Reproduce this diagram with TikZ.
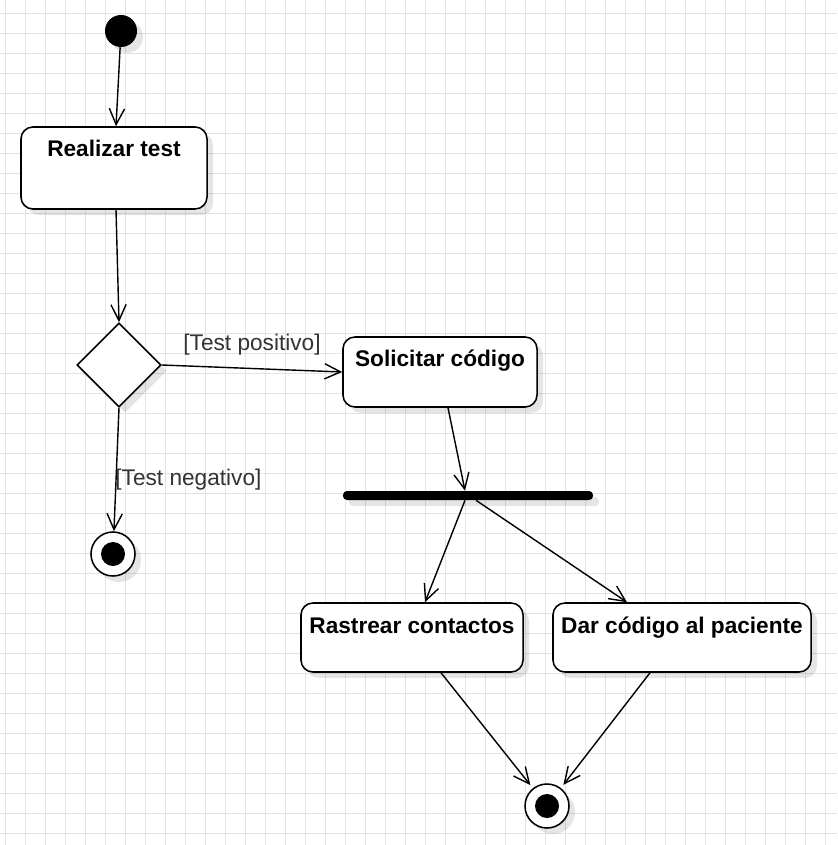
\documentclass[tikz,border=0pt]{standalone}
\usepackage{fontspec}
\setmainfont{Liberation Sans}
\usepackage{tikz}
\usetikzlibrary{shapes.geometric,arrows.meta,shadows}

\begin{document}
\begin{tikzpicture}[x=0.025cm,y=-0.025cm,font=\fontsize{16.1}{18}\selectfont]
\tikzset{gridline/.style=
            {draw=black!11,line width=0.5pt},
         shade box/.style=
            {drop shadow={shadow xshift=0.15cm,shadow yshift=-0.15cm,fill=black,opacity=0.1}},
         activity/.style=
            {draw,fill=white,rounded corners=0.3cm,line width=1.1pt,inner ysep=0pt,
             text height=0.75cm,font=\fontsize{16.1}{18}\selectfont\bfseries,shade box},
         decision/.style=
            {diamond,draw,fill=white,line width=1.1pt,minimum size=2.1cm,inner sep=0pt,shade box},
         initial/.style=
            {circle,fill=black,minimum size=0.8cm,inner sep=0pt,shade box},
         final/.style=
            {circle,draw,fill=white,line width=1.1pt,minimum size=1.1cm,inner sep=0pt,shade box,
             path picture={\fill[black] (path picture bounding box.center) circle (0.3cm);}},
         forkbar/.style=
            {fill=black,rounded corners=0.1cm,minimum width=6.25cm,minimum height=0.225cm,
             inner sep=0pt,shade box},
         flow/.style=
            {line width=1pt,-{Straight Barb[length=0.4cm,width=0.38cm]}},
         guard/.style=
            {text=black!80}}
\useasboundingbox (0,0) rectangle (837,845);
\fill[white] (0,0) rectangle (837,845);
\foreach \gx in {5,25,...,825} \draw[gridline] (\gx,0) -- (\gx,845);
\foreach \gy in {13,33,...,833} \draw[gridline] (0,\gy) -- (837,\gy);

\node[initial] (start) at (121,31) {};
\node[activity,minimum width=4.65cm,text depth=1.3cm] (realizar) at (114,168) {Realizar test};
\node[decision] (dec) at (119,365) {};
\node[activity,minimum width=4.85cm,text depth=1cm] (solicitar) at (440,372) {Solicitar código};
\node[final] (endA) at (113,554) {};
\node[forkbar] (bar) at (468,495.5) {};
\node[activity,minimum width=5.55cm,text depth=0.975cm] (rastrear) at (412,637.5) {Rastrear contactos};
\node[activity,minimum width=6.45cm,text depth=0.975cm] (dar) at (682,637.5) {Dar código al paciente};
\node[final] (endB) at (547,806) {};

\draw[flow] (start) -- ([xshift=0.05cm]realizar.north);
\draw[flow] ([xshift=0.05cm]realizar.south) -- (dec.north);
\draw[flow] (dec.east) -- node[guard,above=0.2cm] (lblpos) {[Test positivo]} (solicitar.west);
\draw[flow] (dec.south) -- node[guard,pos=0.58,anchor=west,xshift=-0.15cm] (lblneg) {[Test negativo]} (endA);
\draw[flow] ([xshift=0.2cm]solicitar.south) -- ([xshift=-0.075cm]bar.north);
\draw[flow] ([xshift=-0.075cm]bar.south) -- ([xshift=0.325cm]rastrear.north);
\draw[flow] ([xshift=0.2cm]bar.south) -- ([xshift=-1.375cm]dar.north);
\draw[flow,shorten >=0.1cm] ([xshift=0.725cm]rastrear.south) -- (endB);
\draw[flow,shorten >=0.1cm] ([xshift=-0.8cm]dar.south) -- (endB);
\end{tikzpicture}
\end{document}
